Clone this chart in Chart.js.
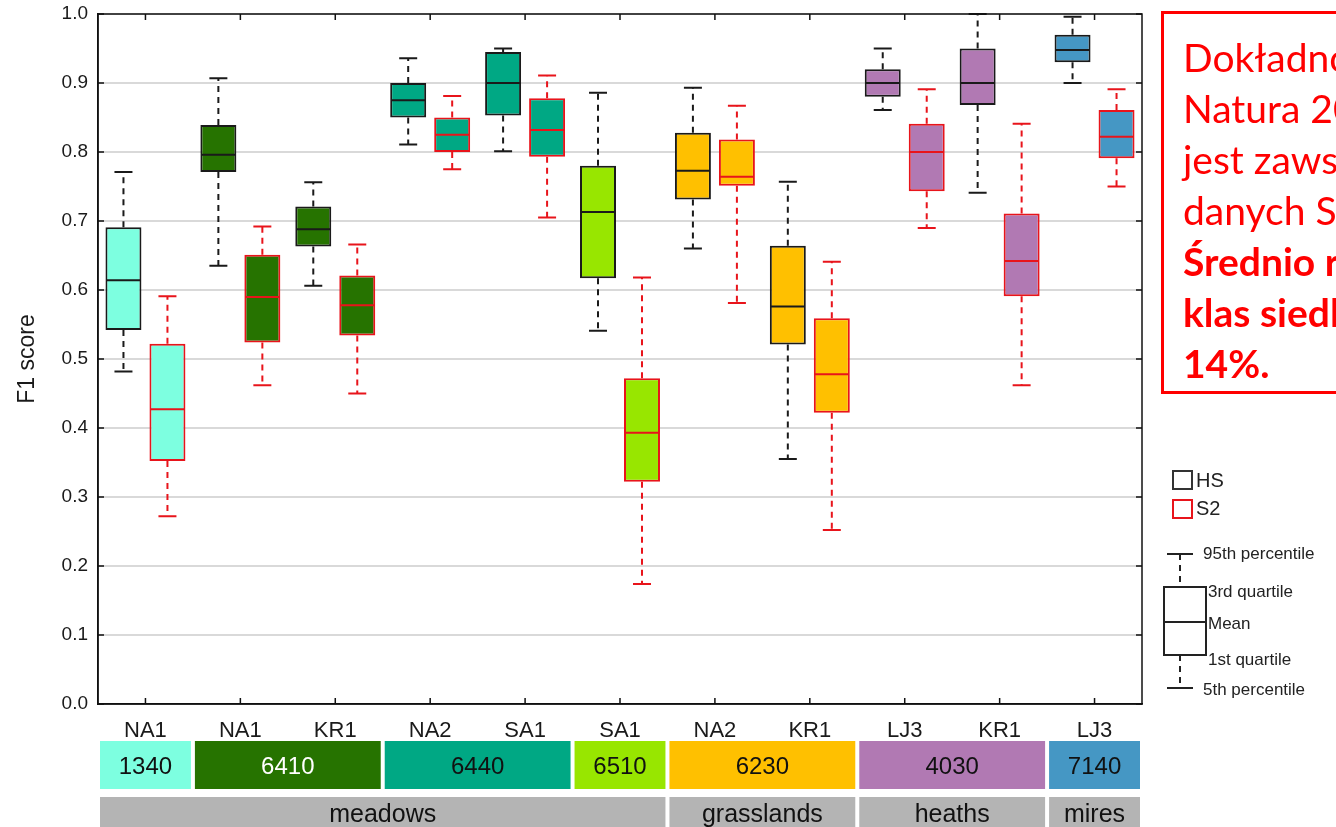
<!DOCTYPE html>
<html>
<head>
<meta charset="utf-8">
<script src="https://cdn.jsdelivr.net/npm/chart.js@4.4.1/dist/chart.umd.min.js"></script>
<style>
  body { margin: 0; width: 1336px; height: 827px; overflow: hidden; background: #fff; position: relative;
         font-family: 'Liberation Sans', Arial, sans-serif; }
  #wrap { position: absolute; left: 0; top: 0; width: 1336px; height: 827px; }
  .note { position: absolute; left: 1161px; top: 11px; width: 300px; height: 383px; box-sizing: border-box;
          border: 3px solid #ff0000; padding: 18px 0 0 19px; color: #ff0000; font-family: Lato, 'Noto Sans', sans-serif;
          font-size: 39px; line-height: 51px; white-space: nowrap; }
  .note b { font-weight: 700; }
  .sq { position: absolute; left: 1172px; width: 21px; height: 20px; box-sizing: border-box; border: 2px solid #333; }
  .lg { position: absolute; color: #222; font-size: 20px; line-height: 20px; }
  .bl { position: absolute; color: #222; font-size: 17px; line-height: 18px; white-space: nowrap; }
  svg { position: absolute; left: 1155px; top: 545px; }
</style>
</head>
<body>
<div id="wrap"><canvas id="chart" width="1336" height="827"></canvas></div>

<div class="note">
  Dokładność<br>Natura 2000<br>jest zawsze<br>danych S2<br><b>Średnio różnica</b><br><b>klas siedliskowych</b><br><b>14%.</b>
</div>

<div class="sq" style="top:470px"></div><div class="lg" style="left:1196px;top:470px">HS</div>
<div class="sq" style="top:499px;border-color:#e8141b"></div><div class="lg" style="left:1196px;top:498px">S2</div>

<svg width="60" height="150" viewBox="1155 545 60 150">
  <line x1="1167" y1="554" x2="1193" y2="554" stroke="#222" stroke-width="2"/>
  <line x1="1180" y1="554" x2="1180" y2="587" stroke="#222" stroke-width="2" stroke-dasharray="6 5"/>
  <rect x="1164" y="587" width="42" height="68" fill="none" stroke="#222" stroke-width="2"/>
  <line x1="1164" y1="622" x2="1206" y2="622" stroke="#222" stroke-width="2"/>
  <line x1="1180" y1="655" x2="1180" y2="688" stroke="#222" stroke-width="2" stroke-dasharray="6 5"/>
  <line x1="1167" y1="688" x2="1193" y2="688" stroke="#222" stroke-width="2"/>
</svg>
<div class="bl" style="left:1203px;top:545px">95th percentile</div>
<div class="bl" style="left:1208px;top:583px">3rd quartile</div>
<div class="bl" style="left:1208px;top:615px">Mean</div>
<div class="bl" style="left:1208px;top:651px">1st quartile</div>
<div class="bl" style="left:1203px;top:681px">5th percentile</div>

<script>
// sites along the x axis
const sites = ['NA1', 'NA1', 'KR1', 'NA2', 'SA1', 'SA1', 'NA2', 'KR1', 'LJ3', 'KR1', 'LJ3'];
const siteHabitat = ['1340', '6410', '6410', '6440', '6440', '6510', '6230', '6230', '4030', '4030', '7140'];

// habitat codes and the broader groups under the axis
const habitats = ['1340', '6410', '6440', '6510', '6230', '4030', '7140'];
const habitatGroup = ['meadows', 'meadows', 'meadows', 'meadows', 'grasslands', 'heaths', 'mires'];
const groups = ['meadows', 'grasslands', 'heaths', 'mires'];

// HS (hyperspectral) F1 scores
const hsP5 = [0.482, 0.635, 0.606, 0.811, 0.801, 0.541, 0.660, 0.355, 0.861, 0.741, 0.900];
const hsQ1 = [0.542, 0.771, 0.663, 0.850, 0.853, 0.617, 0.731, 0.521, 0.880, 0.868, 0.930];
const hsMean = [0.614, 0.796, 0.688, 0.875, 0.900, 0.713, 0.773, 0.576, 0.900, 0.900, 0.948];
const hsQ3 = [0.691, 0.839, 0.721, 0.900, 0.945, 0.780, 0.828, 0.664, 0.920, 0.950, 0.970];
const hsP95 = [0.771, 0.907, 0.756, 0.936, 0.950, 0.886, 0.893, 0.757, 0.950, 1.000, 0.996];

// S2 (Sentinel-2) F1 scores
const s2P5 = [0.272, 0.462, 0.450, 0.775, 0.705, 0.174, 0.581, 0.252, 0.690, 0.462, 0.750];
const s2Q1 = [0.352, 0.524, 0.534, 0.800, 0.793, 0.322, 0.751, 0.422, 0.743, 0.591, 0.791];
const s2Mean = [0.427, 0.590, 0.578, 0.825, 0.832, 0.393, 0.764, 0.478, 0.800, 0.642, 0.822];
const s2Q3 = [0.522, 0.651, 0.621, 0.850, 0.878, 0.472, 0.818, 0.559, 0.841, 0.711, 0.861];
const s2P95 = [0.591, 0.692, 0.666, 0.881, 0.911, 0.618, 0.867, 0.641, 0.891, 0.841, 0.891];

// styles
const habitatColor = {
  '1340': '#7dffe0', '6410': '#267300', '6440': '#00a884', '6510': '#98e600',
  '6230': '#ffc000', '4030': '#b179b3', '7140': '#4597c4',
};
const habitatText = { '6410': '#ffffff' };
const HS_LINE = '#1a1a1a';
const S2_LINE = '#e8141b';

const siteColors = siteHabitat.map((h) => habitatColor[h]);

const whiskers = [
  { p5: hsP5, p95: hsP95, mean: hsMean, color: HS_LINE },
  { p5: s2P5, p95: s2P95, mean: s2Mean, color: S2_LINE },
];

const boxExtras = {
  id: 'boxExtras',
  afterDatasetsDraw(chart) {
    const ctx = chart.ctx;
    const y = chart.scales.y;
    whiskers.forEach((w, d) => {
      const meta = chart.getDatasetMeta(d);
      meta.data.forEach((bar, i) => {
        const x = bar.x;
        const half = bar.width / 2;
        const cap = bar.width / 4;
        const top = Math.min(bar.y, bar.base);
        const bot = Math.max(bar.y, bar.base);
        const yHi = y.getPixelForValue(w.p95[i]);
        const yLo = y.getPixelForValue(w.p5[i]);
        ctx.save();
        ctx.strokeStyle = w.color;
        ctx.lineWidth = 2;
        ctx.setLineDash([6, 5]);
        ctx.beginPath();
        ctx.moveTo(x, top); ctx.lineTo(x, yHi);
        ctx.moveTo(x, bot); ctx.lineTo(x, yLo);
        ctx.stroke();
        ctx.setLineDash([]);
        ctx.beginPath();
        ctx.moveTo(x - cap, yHi); ctx.lineTo(x + cap, yHi);
        ctx.moveTo(x - cap, yLo); ctx.lineTo(x + cap, yLo);
        const ym = y.getPixelForValue(w.mean[i]);
        ctx.moveTo(x - half + 1, ym); ctx.lineTo(x + half - 1, ym);
        ctx.stroke();
        ctx.restore();
      });
    });
  },
  afterDraw(chart) {
    const ctx = chart.ctx;
    const a = chart.chartArea;
    const xs = chart.scales.x;
    const ys = chart.scales.y;
    ctx.save();
    // frame and inward ticks
    ctx.strokeStyle = '#111';
    ctx.lineWidth = 1.5;
    ctx.strokeRect(a.left, a.top, a.right - a.left, a.bottom - a.top);
    ctx.beginPath();
    ys.ticks.forEach((t) => {
      const py = ys.getPixelForValue(t.value);
      ctx.moveTo(a.left, py); ctx.lineTo(a.left + 6, py);
      ctx.moveTo(a.right, py); ctx.lineTo(a.right - 6, py);
    });
    sites.forEach((s, i) => {
      const px = xs.getPixelForValue(i);
      ctx.moveTo(px, a.bottom); ctx.lineTo(px, a.bottom - 6);
      ctx.moveTo(px, a.top); ctx.lineTo(px, a.top + 6);
    });
    ctx.stroke();

    // habitat code boxes and group boxes under the axis
    const halfCat = (xs.getPixelForValue(1) - xs.getPixelForValue(0)) / 2;
    const span = (list, key) => {
      const idx = [];
      list.forEach((v, i) => { if (v === key) idx.push(i); });
      return [xs.getPixelForValue(idx[0]) - halfCat + 2, xs.getPixelForValue(idx[idx.length - 1]) + halfCat - 2];
    };
    ctx.textAlign = 'center';
    ctx.textBaseline = 'middle';
    habitats.forEach((h) => {
      const [x0, x1] = span(siteHabitat, h);
      ctx.fillStyle = habitatColor[h];
      ctx.fillRect(x0, 741, x1 - x0, 48);
      ctx.fillStyle = habitatText[h] || '#111';
      ctx.font = '24px "Liberation Sans", Arial, sans-serif';
      ctx.fillText(h, (x0 + x1) / 2, 767);
    });
    const siteGroup = siteHabitat.map((h) => habitatGroup[habitats.indexOf(h)]);
    groups.forEach((g) => {
      const [x0, x1] = span(siteGroup, g);
      ctx.fillStyle = '#b4b4b4';
      ctx.fillRect(x0, 797, x1 - x0, 40);
      ctx.fillStyle = '#111';
      ctx.font = '25px "Liberation Sans", Arial, sans-serif';
      ctx.fillText(g, (x0 + x1) / 2, 815);
    });
    ctx.restore();
  },
};

Chart.defaults.font.family = '"Liberation Sans", Arial, sans-serif';
Chart.defaults.color = '#1a1a1a';

new Chart(document.getElementById('chart'), {
  type: 'bar',
  data: {
    labels: sites,
    datasets: [
      {
        label: 'HS',
        data: sites.map((s, i) => [hsQ1[i], hsQ3[i]]),
        backgroundColor: siteColors,
        borderColor: HS_LINE,
        borderWidth: 2,
        borderSkipped: false,
      },
      {
        label: 'S2',
        data: sites.map((s, i) => [s2Q1[i], s2Q3[i]]),
        backgroundColor: siteColors,
        borderColor: S2_LINE,
        borderWidth: 2,
        borderSkipped: false,
      },
    ],
  },
  options: {
    responsive: false,
    animation: false,
    categoryPercentage: 0.927,
    barPercentage: 0.818,
    layout: { padding: { top: 14, right: 194, bottom: 0, left: 0 } },
    plugins: { legend: { display: false }, tooltip: { enabled: false } },
    scales: {
      x: {
        grid: { display: false },
        border: { display: true, color: '#111', width: 1.5 },
        ticks: { font: { size: 22 }, padding: 6, color: '#1a1a1a' },
        afterFit: (s) => { s.height = 123; s.paddingLeft = 0; s.paddingRight = 0; },
      },
      y: {
        min: 0,
        max: 1,
        ticks: {
          stepSize: 0.1,
          font: { size: 19 },
          padding: 10,
          color: '#1a1a1a',
          callback: (v) => Number(v).toFixed(1),
        },
        grid: { color: '#d9d9d9', lineWidth: 2, drawTicks: false },
        border: { display: true, color: '#111', width: 1.5 },
        title: { display: true, text: 'F1 score', font: { size: 23 }, color: '#1a1a1a', padding: { top: 14, bottom: 0 } },
        afterFit: (s) => { s.width = 98; s.paddingTop = 0; s.paddingBottom = 0; },
      },
    },
  },
  plugins: [boxExtras],
});
</script>
</body>
</html>
